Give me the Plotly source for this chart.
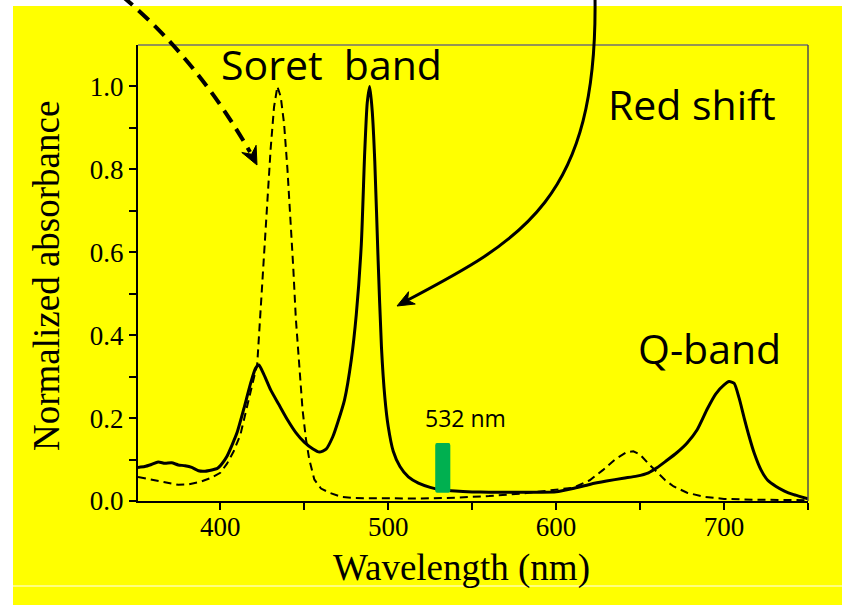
import plotly.graph_objects as go

# ---------------- data ----------------
wl_solid = [351, 355, 359, 363, 367, 371, 375, 379, 383, 387, 391, 395, 398, 401, 404, 407, 410,
            414, 418, 421, 423, 426, 430, 435, 440, 445, 450, 455, 459, 463, 467, 470, 474, 478,
            481, 484, 486, 487.5, 489, 490.5, 492, 494, 496, 498, 500, 503, 507, 512, 518, 525,
            532, 540, 550, 560, 570, 580, 590, 600, 610, 620, 630, 640, 648, 655, 660, 665, 672,
            678, 684, 690, 695, 700, 703, 706, 709, 712, 715, 718, 722, 726, 731, 736, 741, 746, 750]
abs_solid = [0.081, 0.083, 0.088, 0.094, 0.091, 0.092, 0.087, 0.085, 0.081, 0.073, 0.072, 0.075,
             0.078, 0.090, 0.108, 0.135, 0.165, 0.222, 0.283, 0.320, 0.328, 0.305, 0.268, 0.232,
             0.196, 0.165, 0.142, 0.126, 0.118, 0.125, 0.155, 0.190, 0.244, 0.340, 0.450, 0.620,
             0.840, 0.960, 1.000, 0.940, 0.820, 0.580, 0.370, 0.250, 0.180, 0.120, 0.083, 0.058,
             0.043, 0.033, 0.027, 0.024, 0.022, 0.021, 0.021, 0.021, 0.021, 0.022, 0.030, 0.040,
             0.048, 0.055, 0.060, 0.068, 0.080, 0.095, 0.117, 0.140, 0.172, 0.222, 0.258, 0.280,
             0.288, 0.284, 0.248, 0.200, 0.155, 0.115, 0.075, 0.050, 0.035, 0.024, 0.016, 0.010, 0.005]

wl_dash = [351, 357, 363, 369, 375, 381, 388, 394, 400, 404, 408, 412, 416, 419, 422, 424, 426,
           428, 430, 432, 434, 436, 438, 440, 442, 443.5, 445, 447, 449, 451, 453, 456, 460, 465,
           472, 480, 500, 520, 540, 560, 580, 595, 610, 620, 628, 635, 642, 646, 650, 655, 660,
           665, 670, 678, 688, 700, 720, 750]
abs_dash = [0.058, 0.053, 0.048, 0.044, 0.039, 0.040, 0.046, 0.055, 0.068, 0.090, 0.120, 0.160,
            0.225, 0.280, 0.330, 0.460, 0.590, 0.730, 0.850, 0.950, 1.000, 0.975, 0.910, 0.800,
            0.670, 0.560, 0.440, 0.320, 0.220, 0.150, 0.100, 0.052, 0.030, 0.020, 0.010, 0.007,
            0.006, 0.006, 0.008, 0.012, 0.018, 0.025, 0.032, 0.050, 0.075, 0.100, 0.118, 0.120,
            0.112, 0.090, 0.070, 0.050, 0.035, 0.020, 0.010, 0.005, 0.003, 0.002]

x_tick_vals = [400, 450, 500, 550, 600, 650, 700, 750]
x_tick_text = ["400", "", "500", "", "600", "", "700", ""]
y_tick_vals = [0.0, 0.1, 0.2, 0.3, 0.4, 0.5, 0.6, 0.7, 0.8, 0.9, 1.0]
y_tick_text = ["0.0", "", "0.2", "", "0.4", "", "0.6", "", "0.8", "", "1.0"]

laser_nm = 532
laser_band = [528, 537]
laser_level = [0.02, 0.14]

# ---------------- layout geometry (pixels) ----------------
W, H = 842, 605
L, R, T, B = 138, 808, 45, 501


def px(x):
    return (x - L) / (R - L)


def py(y):
    return (B - y) / (B - T)


def P(x, y):
    return f"{px(x):.5f},{py(y):.5f}"


def arrowhead(tip, d, length=16, half=7, notch=5):
    import math
    n = math.hypot(*d)
    ux, uy = d[0] / n, d[1] / n
    vx, vy = -uy, ux
    tx, ty = tip
    bx, by = tx - ux * length, ty - uy * length
    p1 = (bx + vx * half, by + vy * half)
    p2 = (tx - ux * (length - notch), ty - uy * (length - notch))
    p3 = (bx - vx * half, by - vy * half)
    return f"M {P(tx, ty)} L {P(*p1)} L {P(*p2)} L {P(*p3)} Z"


fig = go.Figure()

fig.add_trace(go.Scatter(x=wl_dash, y=abs_dash, mode="lines",
                         line=dict(color="black", width=2, dash="8px,5px"),
                         hoverinfo="skip", showlegend=False))
fig.add_trace(go.Scatter(x=wl_solid, y=abs_solid, mode="lines",
                         line=dict(color="black", width=3, shape="spline", smoothing=0.6),
                         hoverinfo="skip", showlegend=False))

shapes = []
# yellow background (two bands separated by thin white line)
shapes.append(dict(type="rect", xref="paper", yref="paper", layer="below",
                   x0=px(13), x1=px(842), y0=py(6), y1=py(585.5),
                   fillcolor="#FFFF00", line=dict(width=0)))
shapes.append(dict(type="rect", xref="paper", yref="paper", layer="below",
                   x0=px(13), x1=px(842), y0=py(586.5), y1=py(605),
                   fillcolor="#FFFF00", line=dict(width=0)))
# top & right frame lines (gray)
shapes.append(dict(type="line", xref="paper", yref="paper", x0=0, x1=1, y0=1, y1=1,
                   line=dict(color="#707070", width=1.5)))
shapes.append(dict(type="line", xref="paper", yref="paper", x0=1, x1=1, y0=0, y1=1,
                   line=dict(color="#505050", width=1.5)))
# green laser marker (rounded rectangle)
x0, x1 = laser_band
y0, y1 = laser_level
rx, ry = 1.0, 0.006
shapes.append(dict(type="path", xref="x", yref="y", layer="above",
                   path=(f"M {x0+rx},{y0} L {x1-rx},{y0} Q {x1},{y0} {x1},{y0+ry} "
                         f"L {x1},{y1-ry} Q {x1},{y1} {x1-rx},{y1} L {x0+rx},{y1} "
                         f"Q {x0},{y1} {x0},{y1-ry} L {x0},{y0+ry} Q {x0},{y0} {x0+rx},{y0} Z"),
                   fillcolor="#00B050", line=dict(width=0)))
# dashed curved arrow (top-left)
shapes.append(dict(type="path", xref="paper", yref="paper",
                   path=f"M {P(122,-4)} Q {P(196,58)} {P(250,152)}",
                   line=dict(color="black", width=4, dash="14px,8px")))
shapes.append(dict(type="path", xref="paper", yref="paper",
                   path=arrowhead((257, 165), (0.5, 1.0), length=18, half=8, notch=6),
                   fillcolor="black", line=dict(color="black", width=1)))
# solid curved arrow (Red shift)
shapes.append(dict(type="path", xref="paper", yref="paper",
                   path=f"M {P(595,-4)} C {P(598,200)} {P(522,240)} {P(404,302)}",
                   line=dict(color="black", width=3)))
shapes.append(dict(type="path", xref="paper", yref="paper",
                   path=arrowhead((397, 306), (-0.88, 0.48), length=17, half=7, notch=5),
                   fillcolor="black", line=dict(color="black", width=1)))

sans = "Open Sans"
serif = "Liberation Serif"
annotations = [
    dict(text="Soret&nbsp;&nbsp;band", x=px(331), y=py(64), font=dict(family=sans, size=41, color="black")),
    dict(text="Red shift", x=px(692), y=py(104), font=dict(family=sans, size=41, color="black")),
    dict(text="Q-band", x=px(709), y=py(348), font=dict(family=sans, size=41, color="black")),
    dict(text="532 nm", x=px(465), y=py(418), font=dict(family=sans, size=23, color="black")),
    dict(text="Wavelength (nm)", x=px(461), y=py(568), font=dict(family=serif, size=37, color="black")),
    dict(text="Normalized absorbance", x=px(46), y=py(276), textangle=-90,
         font=dict(family=serif, size=37, color="black")),
]
for a in annotations:
    a.update(xref="paper", yref="paper", showarrow=False, xanchor="center", yanchor="middle")

fig.update_layout(
    width=W, height=H,
    margin=dict(l=L, r=W - R, t=T, b=H - B, pad=0),
    paper_bgcolor="white",
    plot_bgcolor="rgba(0,0,0,0)",
    shapes=shapes,
    annotations=annotations,
    showlegend=False,
    xaxis=dict(range=[351, 750], tickvals=x_tick_vals, ticktext=x_tick_text,
               showgrid=False, zeroline=False, showline=True, linecolor="black", linewidth=2,
               ticks="outside", ticklen=7, tickwidth=1.5, tickcolor="black", ticklabelstandoff=-6,
               tickfont=dict(family=serif, size=27, color="black")),
    yaxis=dict(range=[0, 1.1], tickvals=y_tick_vals, ticktext=y_tick_text,
               showgrid=False, zeroline=False, showline=True, linecolor="black", linewidth=2,
               ticks="outside", ticklen=7, tickwidth=1.5, tickcolor="black",
               tickfont=dict(family=serif, size=27, color="black")),
)

fig.write_html("out.html", config={"displayModeBar": False},
               post_script="document.body.style.margin='0';")
